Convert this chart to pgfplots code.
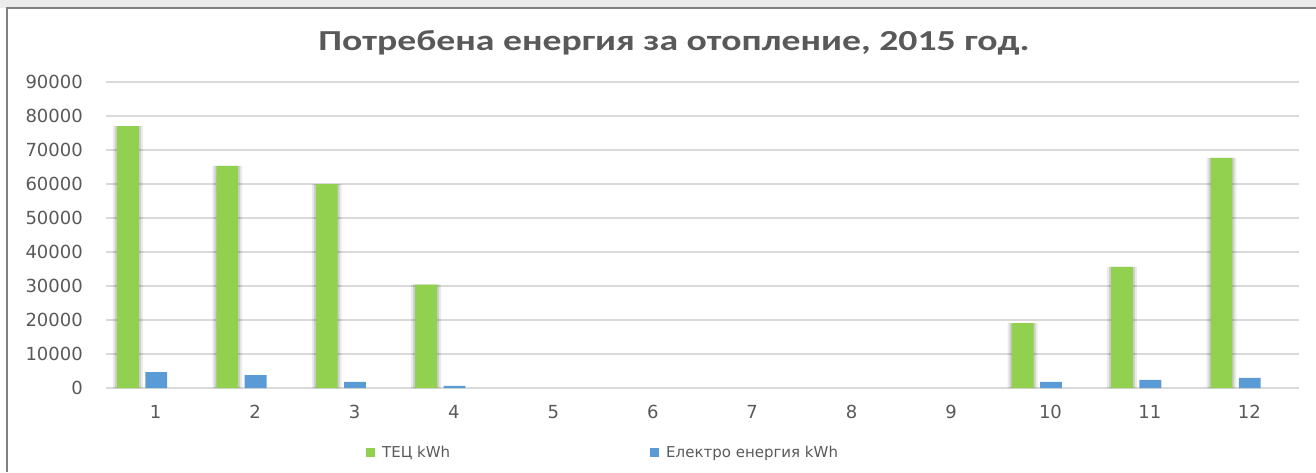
\documentclass[border=0pt]{standalone}
\usepackage{fontspec}
\setmainfont{Carlito}
\newfontfamily\dejavu{DejaVu Sans}
\usepackage{pgfplots}
\pgfplotsset{compat=1.18}
\definecolor{tecgreen}{HTML}{92D050}
\definecolor{elblue}{HTML}{5B9BD5}
\definecolor{txtgray}{HTML}{595959}
\definecolor{gridgray}{HTML}{D9D9D9}
\begin{document}
\begin{tikzpicture}[x=1pt,y=1pt]
\useasboundingbox (0,0) rectangle (1316,472);
\fill[black!8] (0,464) rectangle (1316,472);
\draw[black!50, line width=1.5pt] (7,0) -- (7,464) -- (1316,464);
\node[font=\bfseries\fontsize{29}{32}\selectfont, text=txtgray, anchor=base] at (674,421)
  {\scalebox{1.3}[1]{Потребена енергия за отопление, 2015 год.}};
\begin{axis}[
  at={(106pt,84pt)}, anchor=south west,
  scale only axis, width=1193pt, height=306pt,
  xmin=0.5, xmax=12.5, ymin=0, ymax=90000,
  xtick={1,...,12}, ytick={0,10000,...,90000},
  axis line style={draw=none},
  ymajorgrids, grid style={gridgray, line width=2pt},
  major tick length=0pt,
  scaled y ticks=false,
  /pgf/number format/.cd, fixed, 1000 sep={}, assume math mode=true, /pgfplots/.cd,
  ticklabel style={font=\dejavu\fontsize{18}{21}\selectfont, text=txtgray, inner sep=0pt},
  yticklabel style={anchor=east, xshift=-23pt},
  xticklabel style={anchor=center, yshift=-24pt},
  legend columns=2,
  legend style={at={(0.2179,-0.2124)}, anchor=west, draw=none, fill=none, inner sep=0pt,
    font=\dejavu\fontsize{15}{18}\selectfont, text=txtgray,
    nodes={inner sep=0pt},
    /tikz/every odd column/.append style={column sep=7pt},
    /tikz/every even column/.append style={column sep=200pt}},
  legend image code/.code={\fill[#1] (0pt,-4.5pt) rectangle (9pt,4.5pt);},
]
% soft shadow behind green bars
\addplot[ybar, bar width=0.30, bar shift=-0.28, fill=black, fill opacity=0.08, draw=none, forget plot]
  coordinates {(1,77000) (2,65300) (3,60000) (4,30400) (10,19100) (11,35600) (12,67700)};
\addplot[ybar, bar width=0.26, bar shift=-0.28, fill=black, fill opacity=0.12, draw=none, forget plot]
  coordinates {(1,77000) (2,65300) (3,60000) (4,30400) (10,19100) (11,35600) (12,67700)};
\addplot[ybar, bar width=0.22, bar shift=-0.28, fill=tecgreen, draw=none]
  coordinates {(1,77000) (2,65300) (3,60000) (4,30400) (10,19100) (11,35600) (12,67700)};
\addlegendentry{ТЕЦ kWh}
\addplot[ybar, bar width=0.22, bar shift=0.005, fill=elblue, draw=none]
  coordinates {(1,4700) (2,3800) (3,1800) (4,600) (10,1800) (11,2400) (12,3000)};
\addlegendentry{Електро енергия kWh}
\end{axis}
\end{tikzpicture}
\end{document}
